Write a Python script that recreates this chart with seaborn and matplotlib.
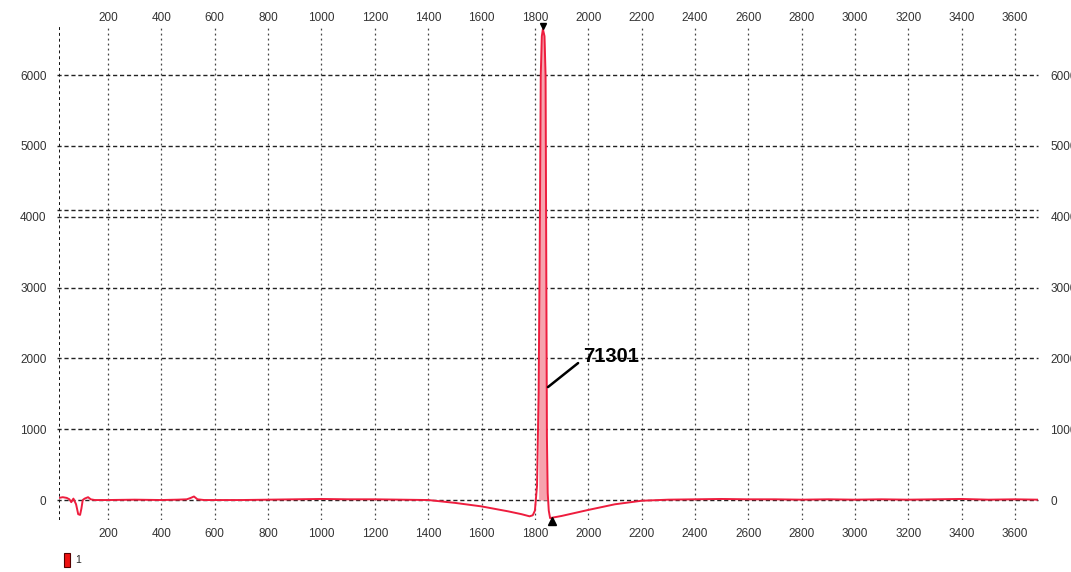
import matplotlib
matplotlib.use("Agg")
import matplotlib.pyplot as plt
from matplotlib.patches import Patch
import numpy as np
import pandas as pd
import seaborn as sns

# ---- data ----
trace_x = [16, 30, 45, 55, 62, 70, 80, 88, 95, 100, 105, 112, 125, 135, 150,
           200, 300, 400, 460, 495, 510, 522, 535, 560, 700, 800, 900, 1000,
           1100, 1200, 1300, 1400, 1500, 1600, 1700, 1750, 1780, 1792,
           1800, 1808, 1814, 1818, 1822, 1826, 1830, 1836, 1840, 1843, 1845,
           1848, 1852, 1857, 1900, 2000, 2100, 2200, 2300, 2400, 2500, 2600,
           2700, 2800, 2900, 3000, 3100, 3200, 3300, 3400, 3500, 3600, 3686]
trace_y = [30, 40, 30, 10, -30, 20, -60, -200, -210, -120, 0, 20, 40, 10, 0,
           0, 5, 0, 5, 10, 30, 50, 10, 0, 0, 5, 10, 15,
           10, 10, 5, 0, -40, -90, -160, -200, -230, -215,
           -150, 200, 1500, 3500, 6000, 6550, 6650, 6550, 6000, 3000, 900,
           100, -150, -255, -225, -140, -60, -10, 5, 10, 15, 10,
           10, 5, 10, 5, 10, 5, 10, 15, 5, 10, 5]
x_ticks = list(range(200, 3601, 200))
y_ticks = list(range(0, 6001, 1000))
threshold_level = 4090
peak_label = "71301"
legend_label = "1"

line_color = "#ee1d3e"

sns.set_style("white")
plt.rcParams["font.family"] = ["Liberation Sans", "DejaVu Sans"]

fig = plt.figure(figsize=(10.71, 5.72), dpi=100)
ax = fig.add_axes([59 / 1071, 1 - 520 / 572, (1038 - 59) / 1071, (520 - 22) / 572])

xmin, xmax = 16, 3686
ymin, ymax = -282, 6750
ax.set_xlim(xmin, xmax)
ax.set_ylim(ymin, ymax)

# grid
for xv in x_ticks:
    ax.plot([xv, xv], [ymin, 6700], color="#444444", lw=0.9, dashes=(1.5, 2.5), zorder=1)
for yv in y_ticks + [threshold_level]:
    ax.plot([xmin - 8, xmax], [yv, yv], color="#222222", lw=1.0, dashes=(3, 2), zorder=1,
            clip_on=False)
ax.plot([xmin, xmin], [ymin, 6700], color="#111111", lw=1.4, dashes=(1.5, 1.5), zorder=1)

df = pd.DataFrame({"x": trace_x, "y": trace_y})
yy = np.array(trace_y)
ax.fill_between(trace_x, 0, trace_y, where=yy > 300, color="#f6a3ae", lw=0, zorder=2)
sns.lineplot(data=df, x="x", y="y", ax=ax, color=line_color, lw=1.4, zorder=3,
             estimator=None, sort=False)

# peak markers
ax.plot([1830], [6700], marker="v", color="black", ms=5, clip_on=False, zorder=5)
ax.plot([1864], [-300], marker="^", color="black", ms=6, clip_on=False, zorder=5)

# peak annotation
ax.plot([1849, 1962], [1595, 1934], color="black", lw=1.8, zorder=5)
ax.text(1980, 2020, peak_label, fontsize=14.5, fontweight="bold", va="center",
        ha="left", color="black")

for s in ax.spines.values():
    s.set_visible(False)
ax.set_xticks(x_ticks)
ax.set_yticks(y_ticks)
ax.set_xlabel("")
ax.set_ylabel("")
ax.tick_params(axis="x", length=0, labeltop=False, labelbottom=True, pad=6,
               labelsize=8.5, labelcolor="#333333")
ax.tick_params(axis="y", length=0, labelleft=True, labelright=True, pad=9,
               labelsize=8.5, labelcolor="#333333")

top = ax.secondary_xaxis("top")
top.set_xticks(x_ticks)
top.tick_params(axis="x", length=0, pad=-1.5, labelsize=8.5, labelcolor="#333333")
top.spines["top"].set_visible(False)

fig.legend(handles=[Patch(facecolor="#ee1111", edgecolor="#550000", lw=0.8,
                          label=legend_label)],
           loc="center left", bbox_to_anchor=(64 / 1071, 1 - 560 / 572),
           frameon=False, fontsize=7.5, handlelength=0.6, handleheight=1.6,
           handletextpad=0.5, borderpad=0, borderaxespad=0)

fig.savefig("out.png", dpi=100)
